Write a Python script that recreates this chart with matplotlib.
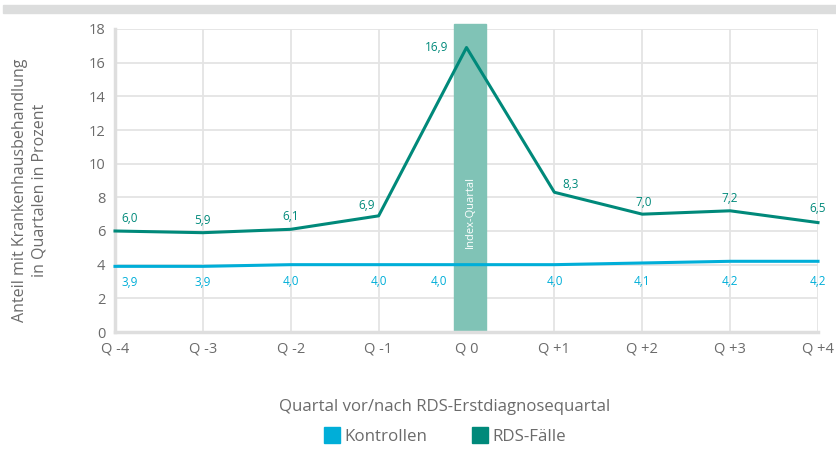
import matplotlib.pyplot as plt
from matplotlib.patches import Rectangle
from matplotlib.lines import Line2D

quarters = ["Q -4", "Q -3", "Q -2", "Q -1", "Q 0", "Q +1", "Q +2", "Q +3", "Q +4"]
positions = [-4, -3, -2, -1, 0, 1, 2, 3, 4]
rds_faelle = [6.0, 5.9, 6.1, 6.9, 16.9, 8.3, 7.0, 7.2, 6.5]
kontrollen = [3.9, 3.9, 4.0, 4.0, 4.0, 4.0, 4.1, 4.2, 4.2]
y_ticks = [0, 2, 4, 6, 8, 10, 12, 14, 16, 18]

# value label offsets in pixels (dx, dy) relative to each point
rds_off = [(15, 12), (0, 12), (0, 13), (-12, 10), (-30, 0), (16, 8), (1, 12), (0, 12), (0, 14)]
kon_off = [(15, -16), (0, -16), (0, -17), (0, -17), (-28, -17), (1, -17), (0, -19), (0, -20), (0, -20)]

TEAL = "#00897a"
CYAN = "#00aed8"
BAND = "#80c3b6"
GRID = "#e4e4e4"
TXT = "#6b6b6b"

plt.rcParams["font.family"] = ["Open Sans", "DejaVu Sans"]

fig = plt.figure(figsize=(8.36, 4.49), dpi=100)
ax = fig.add_axes([115 / 836, 1 - 332 / 449, (818 - 115) / 836, (332 - 29) / 449])

# header strip
fig.patches.append(Rectangle((3 / 836, 1 - 12.5 / 449), 1, 7.5 / 449,
                             transform=fig.transFigure, color="#dcdddd", zorder=0))

ax.set_xlim(-4, 4)
ax.set_ylim(0, 18)
ax.set_yticks(y_ticks)
ax.set_xticks(positions)
ax.set_xticklabels(quarters)
ax.grid(True, color=GRID, linewidth=1.3)
ax.set_axisbelow(True)
for s in ["top", "right"]:
    ax.spines[s].set_visible(False)
for s in ["left", "bottom"]:
    ax.spines[s].set_color("#dedede")
    ax.spines[s].set_linewidth(2.5)
ax.tick_params(length=0, labelsize=10.5, colors=TXT, pad=7)

# index quarter highlight
ax.add_patch(Rectangle((-0.14, 0), 0.36, 18.3, color=BAND, zorder=1.5, clip_on=False))
ax.text(0.04, 7.1, "Index-Quartal", rotation=90, color="white", fontsize=8,
        ha="center", va="center", zorder=3)

ax.plot(positions, kontrollen, color=CYAN, linewidth=2.2, zorder=3, clip_on=False)
ax.plot(positions, rds_faelle, color=TEAL, linewidth=2.2, zorder=3, clip_on=False)

px = 0.72  # points per pixel at 100 dpi
for x, v, (dx, dy) in zip(positions, rds_faelle, rds_off):
    ax.annotate(f"{v:.1f}".replace(".", ","), (x, v), xytext=(dx * px, dy * px),
                textcoords="offset points", ha="center", va="center",
                color=TEAL, fontsize=8.5)
for x, v, (dx, dy) in zip(positions, kontrollen, kon_off):
    ax.annotate(f"{v:.1f}".replace(".", ","), (x, v), xytext=(dx * px, dy * px),
                textcoords="offset points", ha="center", va="center",
                color=CYAN, fontsize=8.5)

fig.text(30 / 836, 1 - 190 / 449,
         "Anteil mit Krankenhausbehandlung\nin Quartalen in Prozent",
         rotation=90, ha="center", va="center", color=TXT, fontsize=11.5,
         linespacing=1.25)

fig.text(445 / 836, 1 - 407 / 449, "Quartal vor/nach RDS-Erstdiagnosequartal",
         ha="center", va="center", color=TXT, fontsize=12.1)

handles = [Line2D([], [], marker="s", linestyle="none", markersize=12,
                  markerfacecolor=CYAN, markeredgecolor=CYAN, label="Kontrollen"),
           Line2D([], [], marker="s", linestyle="none", markersize=12,
                  markerfacecolor=TEAL, markeredgecolor=TEAL, label="RDS-Fälle")]
leg = fig.legend(handles=handles, loc="center", bbox_to_anchor=(445 / 836, 1 - 437 / 449),
                 ncol=2, frameon=False, fontsize=12.2, handletextpad=0.25,
                 columnspacing=2.6, handlelength=1.0)
for t in leg.get_texts():
    t.set_color(TXT)

fig.savefig("out.png", dpi=100)
